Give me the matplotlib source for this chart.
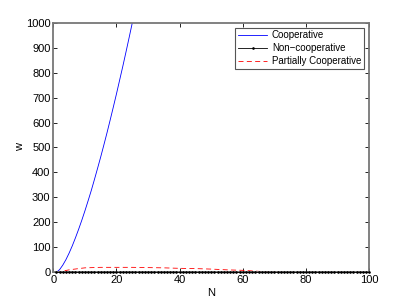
import numpy as np
import matplotlib
matplotlib.use("Agg")
import matplotlib.pyplot as plt

# cooperative curve (N = 1..26)
N_coop = list(range(1, 27))
w_coop = [0, 11, 29, 51, 77, 106, 138, 172, 208, 246, 286, 327, 371, 416,
          462, 510, 559, 610, 662, 715, 770, 825, 882, 940, 999, 1059]

# non-cooperative: flat at zero, one marker per N
N_non = list(range(1, 101))
w_non = [0] * 100

# partially cooperative (dashed red)
N_part = [1, 3, 5, 8, 10, 15, 20, 25, 30, 35, 40, 45, 50, 55, 60, 65, 70, 75, 80, 90, 100]
w_part = [0, 5, 10, 15, 18, 20, 20, 20, 19, 18, 16, 15, 13, 10, 8, 4, 1, 0, 0, 0, 0]

plt.rcParams["font.family"] = ["Liberation Sans", "DejaVu Sans"]
plt.rcParams["font.size"] = 8

fig = plt.figure(figsize=(4.07, 3.06), dpi=100)
ax = fig.add_axes([0.131, 0.110, 0.776, 0.816])

ax.plot(N_coop, w_coop, color="#0000ff", lw=0.6, label="Cooperative")
ax.plot(N_non, w_non, color="black", lw=0.6, marker=".", ms=1.8,
        label="Non\u2212cooperative", clip_on=False, zorder=3)
ax.plot(N_part, w_part, color="#ff0000", lw=0.6, ls=(0, (6, 4)), label="Partially Cooperative")

ax.set_xlim(0, 100)
ax.set_ylim(0, 1000)
ax.set_xticks(np.arange(0, 101, 20))
ax.set_yticks(np.arange(0, 1001, 100))
ax.set_xlabel("N", labelpad=2)
ax.set_ylabel("w", labelpad=1)

ax.tick_params(direction="in", length=3, width=0.6, top=True, right=True, pad=2)
for s in ax.spines.values():
    s.set_color("#777777")
    s.set_linewidth(1.3)

leg = ax.legend(loc="upper right", fancybox=False, framealpha=1, borderpad=0.3,
                handlelength=3.0, handletextpad=0.5, labelspacing=0.3,
                borderaxespad=0.5, fontsize=7)
leg.get_frame().set_edgecolor("#555555")
leg.get_frame().set_linewidth(0.8)

fig.savefig("out.png", dpi=100)
